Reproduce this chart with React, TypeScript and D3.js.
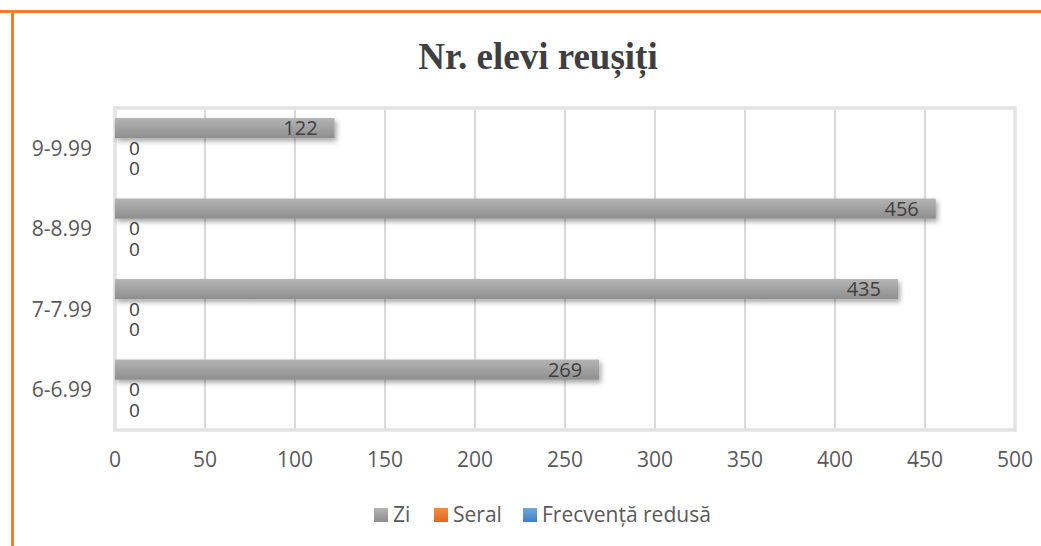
import React from 'react';
import * as d3 from 'd3';

// categories listed bottom -> top as in the source sheet
const CATEGORIES = ['6-6.99', '7-7.99', '8-8.99', '9-9.99'];
const SERIES = ['Zi', 'Seral', 'Frecvență redusă'];
const ZI = [269, 435, 456, 122];
const SERAL = [0, 0, 0, 0];
const FRECVENTA = [0, 0, 0, 0];
const X_TICKS = [0, 50, 100, 150, 200, 250, 300, 350, 400, 450, 500];
const TITLE = 'Nr. elevi reușiți';

const W = 1041;
const H = 546;
const plot = { left: 115, right: 1015, top: 108, bottom: 430 };
const FONT = "'Open Sans', 'Noto Sans', sans-serif";
const TEXT = '#595959';

const colors: Record<string, [string, string]> = {
  'Zi': ['#b4b4b4', '#8e8e8e'],
  'Seral': ['#f48c44', '#e06a1c'],
  'Frecvență redusă': ['#6fa8dc', '#3f80c4'],
};

export default function App() {
  const x = d3.scaleLinear().domain([0, 500]).range([plot.left, plot.right]);
  const y = d3.scaleBand<string>()
    .domain([...CATEGORIES].reverse())
    .range([plot.top, plot.bottom]);
  const inner = d3.scaleBand<string>()
    .domain(SERIES)
    .range([0, y.bandwidth()])
    .paddingInner(0)
    .paddingOuter(0.5);

  const values: Record<string, number[]> = {
    'Zi': ZI,
    'Seral': SERAL,
    'Frecvență redusă': FRECVENTA,
  };

  // legend layout (centered row)
  const legendItems = [
    { key: 'Zi', x: 374 },
    { key: 'Seral', x: 434 },
    { key: 'Frecvență redusă', x: 523 },
  ];

  return (
    <svg width={W} height={H} style={{ position: 'absolute', left: 0, top: 0, background: '#fff' }}>
      <defs>
        {SERIES.map((s, i) => (
          <linearGradient key={s} id={`g${i}`} x1="0" y1="0" x2="0" y2="1">
            <stop offset="0%" stopColor={colors[s][0]} />
            <stop offset="100%" stopColor={colors[s][1]} />
          </linearGradient>
        ))}
        <filter id="shadow" x="-5%" y="-30%" width="110%" height="180%">
          <feDropShadow dx="2" dy="3" stdDeviation="2.5" floodColor="#000" floodOpacity="0.35" />
        </filter>
      </defs>

      {/* orange frame (left + top) */}
      <line x1={0} x2={W} y1={11.5} y2={11.5} stroke="#ef7f2f" strokeWidth={3} />
      <line x1={12.5} x2={12.5} y1={10} y2={H} stroke="#ef7f2f" strokeWidth={3} />

      <text x={538} y={69} textAnchor="middle" fontFamily="'Liberation Serif', 'Times New Roman', serif"
        fontWeight="bold" fontSize={37} fill="#3f3f3f">{TITLE}</text>

      {/* grid */}
      {X_TICKS.map(t => (
        <line key={t} x1={x(t)} x2={x(t)} y1={plot.top} y2={plot.bottom} stroke="#d9d9d9" strokeWidth={2} />
      ))}
      <rect x={plot.left} y={plot.top} width={plot.right - plot.left} height={plot.bottom - plot.top}
        fill="none" stroke="#e3e3e3" strokeWidth={3.5} />

      {/* bars */}
      {SERIES.map((s, si) => CATEGORIES.map((c, ci) => {
        const v = values[s][ci];
        const y0 = (y(c) ?? 0) + (inner(s) ?? 0);
        return (
          <rect key={s + c} x={x(0)} y={y0} width={x(v) - x(0)} height={inner.bandwidth()}
            fill={`url(#g${si})`} filter={v > 0 ? 'url(#shadow)' : undefined} />
        );
      }))}

      {/* data labels */}
      {SERIES.map(s => CATEGORIES.map((c, ci) => {
        const v = values[s][ci];
        const cy = (y(c) ?? 0) + (inner(s) ?? 0) + inner.bandwidth() / 2;
        return (
          <text key={'l' + s + c} x={v > 0 ? x(v) - 17 : x(0) + 14} y={cy} dy="0.35em"
            textAnchor={v > 0 ? 'end' : 'start'} fontFamily={FONT} fontSize={v > 0 ? 20 : 19}
            fill="#404040">{v}</text>
        );
      }))}

      {/* category axis */}
      {CATEGORIES.map(c => (
        <text key={c} x={92} y={(y(c) ?? 0) + y.bandwidth() / 2} dy="0.35em" textAnchor="end"
          fontFamily={FONT} fontSize={21} fill={TEXT}>{c}</text>
      ))}

      {/* value axis */}
      {X_TICKS.map(t => (
        <text key={'t' + t} x={x(t)} y={460} dy="0.35em" textAnchor="middle"
          fontFamily={FONT} fontSize={21} fill={TEXT}>{t}</text>
      ))}

      {/* legend */}
      {legendItems.map(it => (
        <g key={it.key} transform={`translate(${it.x},${508})`}>
          <rect width={14} height={14} fill={`url(#g${SERIES.indexOf(it.key)})`} />
          <text x={19} y={7} dy="0.35em" fontFamily={FONT} fontSize={21} fill={TEXT}>{it.key}</text>
        </g>
      ))}
    </svg>
  );
}
